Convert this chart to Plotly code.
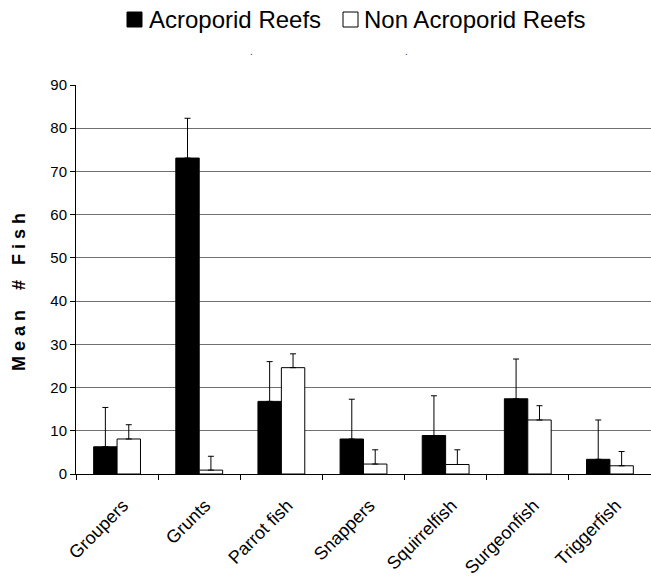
import plotly.graph_objects as go

categories = ["Groupers", "Grunts", "Parrot fish", "Snappers", "Squirrelfish", "Surgeonfish", "Triggerfish"]
acro_mean = [6.3, 73.1, 16.8, 8.1, 8.9, 17.4, 3.4]
acro_err = [9.1, 9.2, 9.2, 9.2, 9.2, 9.2, 9.1]
non_mean = [8.1, 0.9, 24.6, 2.3, 2.2, 12.5, 1.9]
non_err = [3.3, 3.2, 3.2, 3.3, 3.4, 3.3, 3.3]
y_ticks = [0, 10, 20, 30, 40, 50, 60, 70, 80, 90]
series_names = ["Acroporid Reefs", "Non Acroporid Reefs"]
series_colors = ["black", "white"]

FONT = "Arial, Liberation Sans, sans-serif"
W, H = 651, 578
# plot area in window pixels: x 76..651, y 85..474
L, R, T, B = 76, 0, 85, 578 - 474
PW, PH = W - L - R, H - T - B


def px_x(px):
    return (px - L) / PW


def px_y(py):
    return (H - B - py) / PH


fig = go.Figure()
for name, mean, err, col in zip(series_names, [acro_mean, non_mean], [acro_err, non_err], series_colors):
    fig.add_trace(go.Bar(
        name=name, x=categories, y=mean,
        marker=dict(color=col, line=dict(color="black", width=1)),
        error_y=dict(type="data", symmetric=False, array=err, arrayminus=[0] * len(err),
                     color="black", thickness=1, width=3),
        hoverinfo="skip",
    ))

# manual legend (squares + text) and stray dots
shapes = []
annotations = []
legend_items = [(127, 147), (343, 362)]
for (sx, tx), name, col in zip(legend_items, series_names, series_colors):
    shapes.append(dict(type="rect", xref="paper", yref="paper",
                       x0=px_x(sx), x1=px_x(sx + 15), y0=px_y(27), y1=px_y(12),
                       fillcolor=col, line=dict(color="black", width=1)))
    annotations.append(dict(text=name, x=px_x(tx), y=px_y(19.5), xref="paper", yref="paper",
                            xanchor="left", yanchor="middle", showarrow=False,
                            font=dict(size=24, family=FONT, color="black")))
for dx in (251, 406):
    annotations.append(dict(text=".", x=px_x(dx), y=px_y(51), xref="paper", yref="paper",
                            xanchor="center", yanchor="middle", showarrow=False,
                            font=dict(size=10, family=FONT, color="#444")))
annotations.append(dict(text="<b>M e a n \u00a0 \u00a0# \u00a0 F i s h</b>", x=px_x(19), y=px_y(292),
                        xref="paper", yref="paper", textangle=-90, showarrow=False,
                        xanchor="center", yanchor="middle",
                        font=dict(size=18, family=FONT, color="black")))

fig.update_layout(
    width=W, height=H,
    margin=dict(l=L, r=R, t=T, b=B, autoexpand=False),
    paper_bgcolor="white", plot_bgcolor="white",
    barmode="group", bargap=0.43, bargroupgap=0,
    font=dict(family=FONT, color="black", size=15),
    showlegend=False,
    hovermode=False,
    xaxis=dict(range=[-0.5, 6.5], showline=True, linecolor="black", linewidth=1,
               ticks="outside", tickson="boundaries", ticklen=5, tickcolor="black",
               tickangle=-45, tickfont=dict(size=18, family=FONT), showgrid=False,
               zeroline=False, automargin=False, ticklabelstandoff=13, ticklabelshift=6),
    yaxis=dict(range=[0, 90], tickvals=y_ticks, showline=True, linecolor="black",
               linewidth=1, ticks="outside", ticklen=5, tickcolor="black",
               showgrid=True, gridcolor="#707070", gridwidth=1, zeroline=False,
               tickfont=dict(size=15, family=FONT), automargin=False),
    shapes=shapes,
    annotations=annotations,
)

fig.write_html("out.html", config={"displayModeBar": False, "staticPlot": True},
               post_script="document.body.style.margin='0';document.body.style.padding='0';")
